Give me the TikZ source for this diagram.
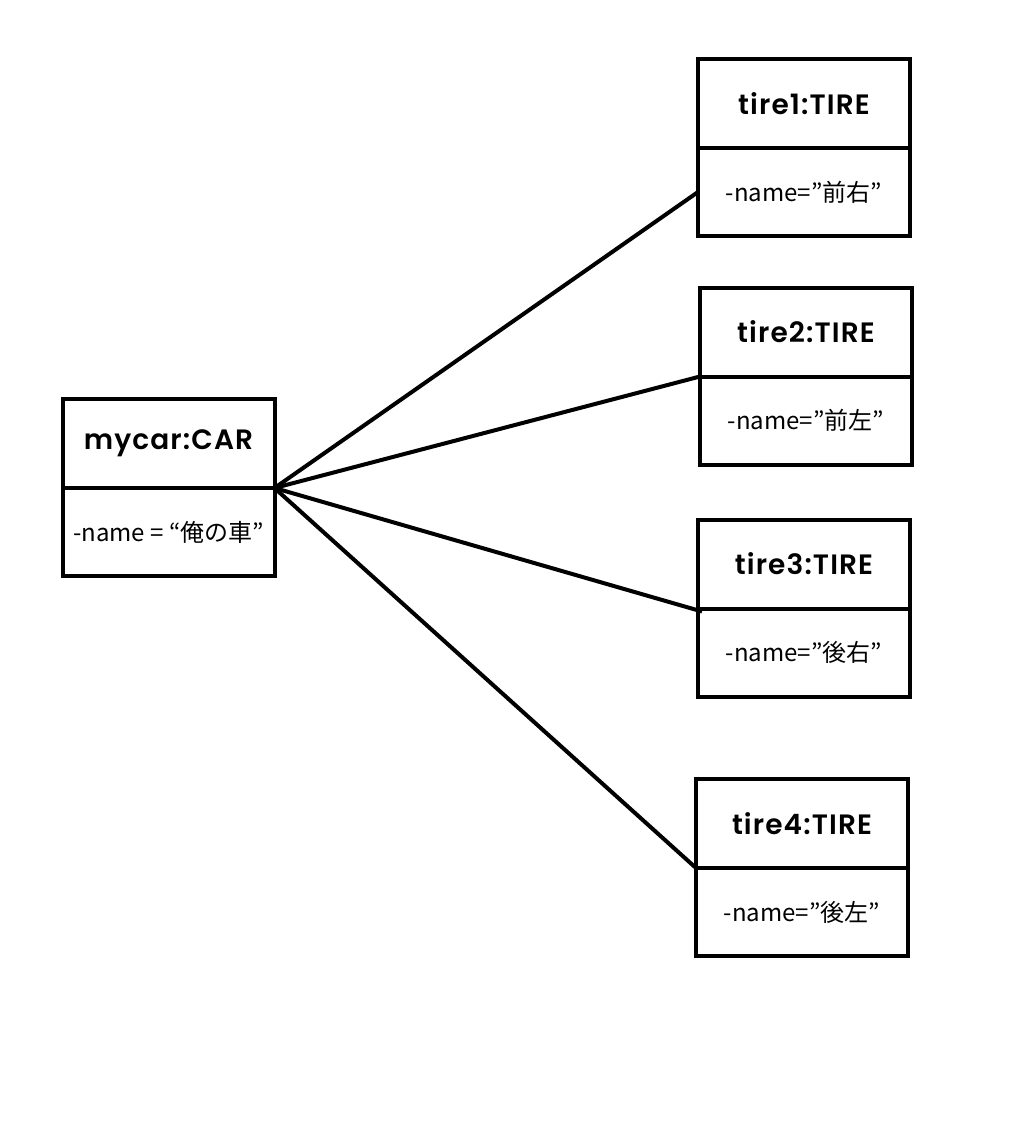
\documentclass[tikz,border=0pt]{standalone}
\usepackage{fontspec}
\setmainfont{Noto Sans CJK JP}
\newfontfamily\titlefont{Poppins SemiBold}[LetterSpace=4]
\usetikzlibrary{positioning}

\tikzset{
  objhead/.style={draw, line width=4pt, outer sep=0pt, minimum width=212pt, minimum height=89pt,
    inner sep=0pt, font=\titlefont\fontsize{28}{32}\selectfont},
  objbody/.style={draw, line width=4pt, outer sep=0pt, minimum width=212pt, minimum height=88pt,
    inner sep=0pt, font=\fontsize{24}{28}\selectfont},
  link/.style={line width=4pt}
}

\begin{document}
\begin{tikzpicture}[x=1pt, y=-1pt]
    \useasboundingbox (0,0) rectangle (1021,1134);

    % car object
    \node[objhead] (carhead) at (168.5, 443.5) {mycar:CAR};
    \node[objbody, below=0pt of carhead] (carbody) {-name = “俺の車”};

    % tire objects
    \node[objhead] (tire1head) at (804, 103.5) {tire1:TIRE};
    \node[objbody, below=0pt of tire1head] (tire1body) {-name=”前右”};

    \node[objhead] (tire2head) at (806, 332) {tire2:TIRE};
    \node[objbody, below=0pt of tire2head] (tire2body) {-name=”前左”};

    \node[objhead] (tire3head) at (804, 564) {tire3:TIRE};
    \node[objbody, below=0pt of tire3head] (tire3body) {-name=”後右”};

    \node[objhead] (tire4head) at (802, 823.5) {tire4:TIRE};
    \node[objbody, below=0pt of tire4head] (tire4body) {-name=”後左”};

    % links
    \draw[link] (carhead.south east) -- (tire1body.west);
    \draw[link] (carhead.south east) -- (tire2head.south west);
    \draw[link] (carhead.south east) -- ([xshift=4pt, yshift=-3pt]tire3head.south west);
    \draw[link] (carhead.south east) -- (tire4head.south west);
\end{tikzpicture}
\end{document}
